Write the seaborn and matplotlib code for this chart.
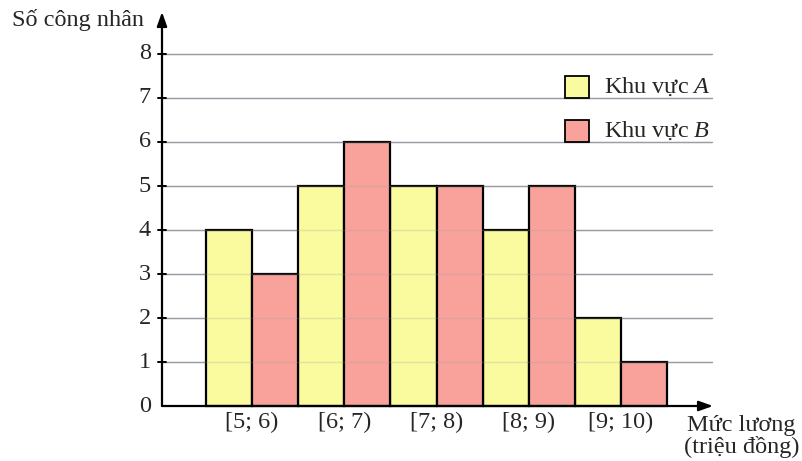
import matplotlib
matplotlib.use("Agg")
import matplotlib.pyplot as plt
import seaborn as sns
import pandas as pd
from matplotlib.patches import Rectangle

# Salary brackets (million VND) and worker counts per region
categories = ["[5; 6)", "[6; 7)", "[7; 8)", "[8; 9)", "[9; 10)"]
region_a = [4, 5, 5, 4, 2]
region_b = [3, 6, 5, 5, 1]
series_names = ["Khu vực A", "Khu vực B"]
y_ticks = [0, 1, 2, 3, 4, 5, 6, 7, 8]

yellow = "#FAFA9E"
pink = "#F8A29B"
grid_c = "#9C9CA6"
FS = 17.5

df = pd.DataFrame({
    "bracket": categories * 2,
    "count": region_a + region_b,
    "region": [series_names[0]] * len(categories) + [series_names[1]] * len(categories),
})

sns.set_theme(style="white")
plt.rcParams["font.family"] = ["Liberation Serif", "DejaVu Serif"]
plt.rcParams["mathtext.fontset"] = "custom"
plt.rcParams["mathtext.it"] = "Liberation Serif:italic"
plt.rcParams["mathtext.rm"] = "Liberation Serif"

W, H = 802, 461
fig = plt.figure(figsize=(W / 100, H / 100), dpi=100)
ax = fig.add_axes([0, 0, 1, 1])

# pixel -> data helpers (one category = 92.2 px, one worker = 44 px)
UX, UY, X0, Y0 = 92.2, 44.0, 206.0, 406.0
def dx(p):
    return -0.5 + (p - X0) / UX
def dy(p):
    return (Y0 - p) / UY

sns.barplot(data=df, x="bracket", y="count", hue="region",
            palette=[yellow, pink], width=1.0, dodge=True,
            edgecolor="black", linewidth=1.6, saturation=1,
            legend=False, ax=ax, zorder=2)

ax.set_xlim(dx(0), dx(W))
ax.set_ylim(dy(H), dy(0))
ax.set_axis_off()

x_left, x_right = dx(162), dx(712)

# horizontal grid lines, strong behind bars and faint over them
for v in y_ticks[1:]:
    ax.plot([x_left, x_right], [v, v], color=grid_c, lw=1.0, zorder=1)
    ax.plot([x_left, x_right], [v, v], color=grid_c, lw=1.0, alpha=0.25, zorder=3)

# axes with arrow heads
ax.annotate("", xy=(x_left, dy(12)), xytext=(x_left, 0),
            arrowprops=dict(arrowstyle="-|>,head_length=0.7,head_width=0.25",
                            color="black", lw=1.6, shrinkA=0, shrinkB=0), zorder=4)
ax.annotate("", xy=(dx(713), 0), xytext=(x_left, 0),
            arrowprops=dict(arrowstyle="-|>,head_length=0.7,head_width=0.25",
                            color="black", lw=1.6, shrinkA=0, shrinkB=0), zorder=4)

# y ticks and labels
for v in y_ticks:
    if v > 0:
        ax.plot([dx(158), dx(166)], [v, v], color="black", lw=1.4, zorder=4)
    ax.text(dx(151), v, str(v), ha="right", va="center", fontsize=FS)

# category labels under each pair of bars
for i, lab in enumerate(categories):
    ax.text(i, dy(422), lab, ha="center", va="center", fontsize=FS)

ax.text(dx(12), dy(20), "Số công nhân", ha="left", va="center", fontsize=FS)
ax.text(dx(687), dy(425), "Mức lương", ha="left", va="center", fontsize=FS)
ax.text(dx(684), dy(447), "(triệu đồng)", ha="left", va="center", fontsize=FS)

# legend
for name, col, top in [(series_names[0], yellow, 76), (series_names[1], pink, 120)]:
    ax.add_patch(Rectangle((dx(565), dy(top + 22)), 24 / UX, 22 / UY,
                           facecolor=col, edgecolor="black", lw=1.3, zorder=5))
    base, letter = name.rsplit(" ", 1)
    ax.text(dx(604), dy(top + 11), base + " $\\mathit{" + letter + "}$",
            ha="left", va="center", fontsize=FS, zorder=5)

fig.savefig("out.png", dpi=100)
